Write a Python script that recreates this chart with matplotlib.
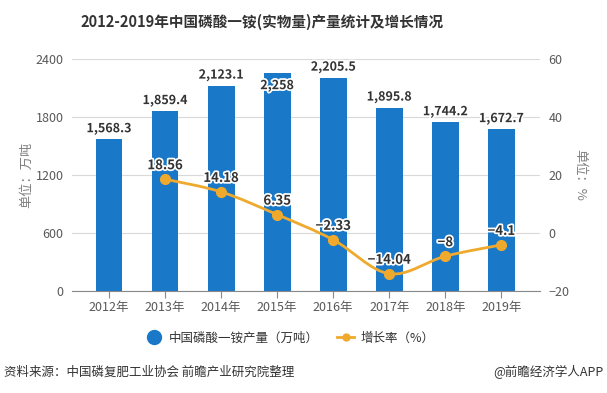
import matplotlib
matplotlib.use("Agg")
import matplotlib.pyplot as plt
import matplotlib.patheffects as pe
from matplotlib.path import Path
from matplotlib.patches import PathPatch
from matplotlib.lines import Line2D

plt.rcParams['font.family'] = ['Noto Sans CJK SC', 'DejaVu Sans']

years = ['2012年', '2013年', '2014年', '2015年', '2016年', '2017年', '2018年', '2019年']
output = [1568.3, 1859.4, 2123.1, 2258, 2205.5, 1895.8, 1744.2, 1672.7]
output_labels = ['1,568.3', '1,859.4', '2,123.1', '2,258', '2,205.5', '1,895.8', '1,744.2', '1,672.7']
growth_years_idx = [1, 2, 3, 4, 5, 6, 7]
growth = [18.56, 14.18, 6.35, -2.33, -14.04, -8, -4.1]
growth_labels = ['18.56', '14.18', '6.35', '−2.33', '−14.04', '−8', '−4.1']

BLUE = '#1a78c8'
ORANGE = '#efaa2e'
GRID = '#d9d9d9'
TICK = '#595959'

fig = plt.figure(figsize=(6.07, 3.93), dpi=100)
ax = fig.add_axes([72/607, 1-291/393, 468/607, 232/393])
ax2 = ax.twinx()

x = list(range(len(years)))
ax.bar(x, output, width=0.48, color=BLUE, zorder=2)
ax.set_xlim(-0.66, 7.69)
ax.set_ylim(0, 2400)
ax.set_yticks([0, 600, 1200, 1800, 2400])
ax.set_xticks(x)
ax.set_xticklabels(years)
ax.grid(axis='y', color=GRID, linewidth=0.8, zorder=0)
ax.set_axisbelow(True)
for s in ['top', 'right', 'left']:
    ax.spines[s].set_visible(False)
ax.spines['bottom'].set_color('#888888')
ax.tick_params(axis='x', colors='#888888', labelcolor=TICK, labelsize=9, length=5, width=0.8, pad=2)
ax.tick_params(axis='y', length=0, labelcolor=TICK, labelsize=9, pad=6)
ax.set_ylabel('单位：万吨', color='#808080', fontsize=9.5, labelpad=2)

ax2.set_ylim(-20, 60)
ax2.set_yticks([-20, 0, 20, 40, 60])
ax2.tick_params(axis='y', length=0, labelcolor=TICK, labelsize=9, pad=6)
for s in ax2.spines.values():
    s.set_visible(False)
ax2.set_ylabel('单位：%', color='#808080', fontsize=9.5, rotation=270, labelpad=12)

halo = [pe.withStroke(linewidth=2.5, foreground='white')]
for i, (v, lab) in enumerate(zip(output, output_labels)):
    dy = 3 if i != 3 else -14
    ax.annotate(lab, (i, v), xytext=(0, dy), textcoords='offset points',
                ha='center', va='bottom', fontsize=9, fontweight='bold',
                color='#333333', path_effects=halo, zorder=6)

# smooth growth curve (Catmull-Rom -> cubic Bezier through the data points)
gx = growth_years_idx
gy = growth
verts = [(gx[0], gy[0])]
codes = [Path.MOVETO]
n = len(gx)
for i in range(n - 1):
    p0 = (gx[max(i-1, 0)], gy[max(i-1, 0)])
    p1 = (gx[i], gy[i])
    p2 = (gx[i+1], gy[i+1])
    p3 = (gx[min(i+2, n-1)], gy[min(i+2, n-1)])
    t = 1/6
    c1 = (p1[0] + (p2[0]-p0[0])*t, p1[1] + (p2[1]-p0[1])*t)
    c2 = (p2[0] - (p3[0]-p1[0])*t, p2[1] - (p3[1]-p1[1])*t)
    verts += [c1, c2, p2]
    codes += [Path.CURVE4]*3
ax2.add_patch(PathPatch(Path(verts, codes), facecolor='none', edgecolor=ORANGE, linewidth=2, zorder=4))
ax2.plot(gx, gy, linestyle='none', marker='o', markersize=7, color=ORANGE, zorder=5)
for xi, v, lab in zip(gx, gy, growth_labels):
    ax2.annotate(lab, (xi, v), xytext=(0, 5), textcoords='offset points',
                 ha='center', va='bottom', fontsize=9.5, fontweight='bold',
                 color='#333333', path_effects=halo, zorder=7)

fig.text(262/607, 1-22/393, '2012-2019年中国磷酸一铵(实物量)产量统计及增长情况',
         ha='center', va='center', fontsize=10.5, fontweight='bold', color='#333333')

handles = [Line2D([], [], linestyle='none', marker='o', markersize=10, color=BLUE),
           Line2D([], [], color=ORANGE, linewidth=2, marker='o', markersize=5)]
fig.legend(handles, ['中国磷酸一铵产量（万吨）', '增长率（%）'], loc='center',
           bbox_to_anchor=(290/607, 1-338/393), ncol=2, frameon=False,
           fontsize=9, handlelength=1.4, columnspacing=1.4, handletextpad=0.5,
           labelcolor='#333333')

fig.text(4/607, 1-372/393, '资料来源：中国磷复肥工业协会 前瞻产业研究院整理',
         ha='left', va='center', fontsize=9, color='#333333')
fig.text(603/607, 1-372/393, '@前瞻经济学人APP',
         ha='right', va='center', fontsize=9, color='#333333')

fig.savefig('out.png', dpi=100)
